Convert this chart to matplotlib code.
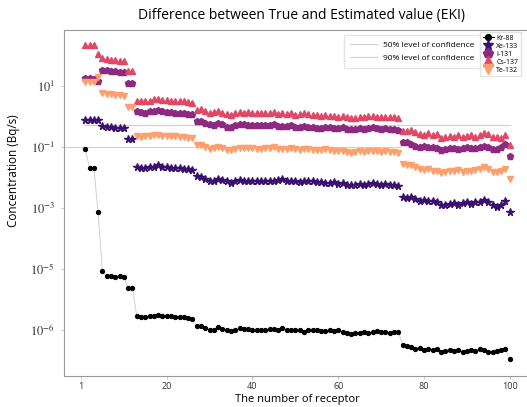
import numpy as np
import matplotlib
matplotlib.use("Agg")
import matplotlib.pyplot as plt
from matplotlib import cm

# receptor index 1..100
receptor = list(range(1, 101))

kr88 = [0.085, 0.020, 0.020, 7.0e-4, 8.1e-6, 5.6e-6, 5.6e-6, 5.5e-6, 5.6e-6, 5.4e-6, 2.4e-6, 2.4e-6,
        2.8e-7, 2.6e-7, 2.5e-7, 2.9e-7, 2.7e-7, 3.1e-7, 2.8e-7, 2.7e-7, 2.8e-7, 2.6e-7, 2.5e-7, 2.5e-7, 2.4e-7, 2.3e-7,
        1.3e-7, 1.3e-7, 1.1e-7, 9.8e-8, 1.0e-7, 1.2e-7, 1.07e-7, 9.8e-8, 9.1e-8, 1.0e-7, 1.1e-7, 1.07e-7, 1.05e-7,
        1.0e-7, 9.9e-8, 1.0e-7, 9.9e-8, 1.05e-7, 1.07e-7, 1.0e-7, 1.17e-7, 9.6e-8, 9.8e-8, 9.6e-8, 1.0e-7, 8.5e-8,
        1.0e-7, 9.9e-8, 9.8e-8, 9.3e-8, 9.1e-8, 9.8e-8, 9.3e-8, 9.8e-8, 8.3e-8, 7.7e-8, 7.2e-8, 7.9e-8,
        8.0e-8, 8.5e-8, 8.0e-8, 8.3e-8, 8.8e-8, 8.3e-8, 8.5e-8, 8.0e-8, 8.3e-8, 8.5e-8,
        3.2e-8, 3.0e-8, 2.6e-8, 2.4e-8, 2.5e-8, 2.2e-8, 2.4e-8, 2.1e-8, 2.3e-8, 1.9e-8, 2.0e-8, 2.2e-8, 2.0e-8,
        2.1e-8, 1.9e-8, 2.0e-8, 2.1e-8, 2.0e-8, 2.4e-8, 2.1e-8, 1.9e-8, 1.8e-8, 2.0e-8, 2.1e-8, 2.3e-8, 1.1e-8]

xe133 = [0.75, 0.75, 0.72, 0.72, 0.47, 0.45, 0.44, 0.42, 0.40, 0.41, 0.18, 0.18,
         0.021, 0.0195, 0.020, 0.022, 0.021, 0.024, 0.0214, 0.021, 0.0204, 0.020, 0.0195, 0.019, 0.018, 0.0174,
         0.0105, 0.0099, 0.0084, 0.0073, 0.0077, 0.0089, 0.0081, 0.0073, 0.0066, 0.0073, 0.0079, 0.0077, 0.0075,
         0.0075, 0.0073, 0.0073, 0.0073, 0.0073, 0.0077, 0.0081, 0.0087, 0.0073, 0.0073, 0.0077, 0.0068, 0.0073,
         0.0075, 0.0073, 0.0071, 0.0068, 0.0064, 0.0066, 0.0068, 0.0060, 0.0066, 0.0057, 0.0053, 0.0057,
         0.0058, 0.0055, 0.0060, 0.0063, 0.0058, 0.0055, 0.0058, 0.0056, 0.0054, 0.0052,
         0.0022, 0.0021, 0.0023, 0.0019, 0.0017, 0.0018, 0.0016, 0.0017, 0.0015, 0.00117, 0.00126, 0.0013, 0.0014,
         0.00126, 0.0014, 0.0015, 0.0013, 0.0015, 0.0015, 0.0018, 0.0015, 0.00117, 0.00108, 0.00126, 0.0017, 0.00074]

i131 = [17, 17, 16, 14, 32, 32, 31, 29.5, 28, 28, 12.2, 12.2,
        1.41, 1.34, 1.30, 1.41, 1.48, 1.59, 1.44, 1.37, 1.37, 1.30, 1.27, 1.24, 1.18, 1.15,
        0.68, 0.68, 0.60, 0.53, 0.51, 0.61, 0.56, 0.45, 0.43, 0.49, 0.53, 0.53, 0.51,
        0.51, 0.50, 0.49, 0.50, 0.51, 0.54, 0.48, 0.48, 0.46, 0.49, 0.43, 0.45, 0.48,
        0.45, 0.43, 0.42, 0.41, 0.43, 0.43, 0.41, 0.40, 0.43, 0.38, 0.37, 0.37,
        0.40, 0.39, 0.41, 0.43, 0.40, 0.38, 0.40, 0.39, 0.37, 0.34,
        0.145, 0.138, 0.123, 0.108, 0.100, 0.108, 0.095, 0.095, 0.088, 0.077, 0.083, 0.091, 0.088,
        0.083, 0.091, 0.095, 0.088, 0.091, 0.095, 0.108, 0.095, 0.083, 0.083, 0.095, 0.117, 0.050]

cs137 = [220, 220, 220, 110, 81, 75, 70, 70, 66, 63, 29.5, 29.5,
         3.2, 3.0, 3.2, 3.2, 3.5, 3.6, 3.4, 3.3, 3.2, 3.2, 3.05, 3.0, 2.9, 2.75,
         1.63, 1.67, 1.44, 1.27, 1.34, 1.51, 1.30, 1.15, 1.12, 1.30, 1.34, 1.30, 1.34,
         1.30, 1.27, 1.24, 1.27, 1.30, 1.37, 1.18, 1.24, 1.18, 1.27, 1.12, 1.18, 1.24,
         1.18, 1.12, 1.06, 1.04, 1.06, 1.04, 1.01, 0.96, 1.04, 0.91, 0.87, 0.87,
         0.95, 0.92, 0.97, 1.0, 0.94, 0.92, 0.95, 0.93, 0.90, 0.85,
         0.335, 0.32, 0.35, 0.295, 0.26, 0.245, 0.275, 0.235, 0.26, 0.19, 0.213, 0.23, 0.213,
         0.235, 0.203, 0.225, 0.235, 0.213, 0.235, 0.275, 0.26, 0.213, 0.203, 0.19, 0.235, 0.115]

te132 = [12.8, 12.8, 12.8, 18.7, 5.6, 5.4, 5.4, 5.0, 4.8, 4.7, 2.0, 2.0,
         0.214, 0.204, 0.214, 0.224, 0.24, 0.245, 0.23, 0.224, 0.214, 0.214, 0.204, 0.204, 0.193, 0.186,
         0.113, 0.111, 0.095, 0.084, 0.088, 0.100, 0.091, 0.080, 0.078, 0.086, 0.091, 0.091, 0.091,
         0.088, 0.086, 0.086, 0.088, 0.091, 0.095, 0.086, 0.082, 0.084, 0.088, 0.082, 0.078, 0.084,
         0.084, 0.080, 0.078, 0.078, 0.082, 0.078, 0.074, 0.071, 0.074, 0.067, 0.063, 0.067,
         0.070, 0.068, 0.072, 0.074, 0.069, 0.066, 0.069, 0.067, 0.064, 0.060,
         0.027, 0.025, 0.024, 0.021, 0.0186, 0.0173, 0.0186, 0.0155, 0.0163, 0.0133, 0.0144, 0.0163, 0.0155,
         0.0173, 0.0144, 0.0163, 0.0163, 0.0173, 0.0186, 0.021, 0.0186, 0.0144, 0.0144, 0.0155, 0.0186, 0.0085]

# confidence levels: (value, first receptor, last receptor)
conf_labels = ["50% level of confidence", "90% level of confidence"]
conf_values = [0.5, 0.1]
conf_start = [1, -4]
conf_end = [100, 74.5]

xtick_pos = [0, 20, 40, 60, 80, 100]
xtick_labels = ["1", "20", "40", "60", "80", "100"]
ytick_pos = [1e1, 1e-1, 1e-3, 1e-5, 1e-7]
ytick_labels = ["$10^{1}$", "$10^{-1}$", "$10^{-3}$", "$10^{-5}$", "$10^{-6}$"]

plt.rcParams['font.family'] = ['Open Sans', 'DejaVu Sans']
plt.rcParams['mathtext.fontset'] = 'stix'

fig = plt.figure(figsize=(5.27, 4.07), dpi=100)
W, H = 527, 407
ax = fig.add_axes([64 / W, 1 - 376 / H, 467 / W, 346 / H])

colors = [cm.magma(v) for v in (0.0, 0.2, 0.4, 0.6, 0.8)]

# confidence lines
conf_handles = []
for val, x0, x1, lab in zip(conf_values, conf_start, conf_end, conf_labels):
    h, = ax.plot([x0, x1], [val, val], color='#cfcfcf', lw=0.8, label=lab, zorder=1)
    conf_handles.append(h)

ax.plot(receptor, kr88, color='#d0d0d0', lw=0.7, marker='o', ms=2.8,
        mfc='black', mec='black', zorder=3)
h_xe, = ax.plot(receptor, xe133, ls='none', marker='*', ms=5.5, color=colors[1],
                mec=colors[1], label='Xe-133', zorder=3)
h_i, = ax.plot(receptor, i131, ls='none', marker='p', ms=4.6, color=colors[2],
               mec=colors[2], label='I-131', zorder=3)
h_cs, = ax.plot(receptor, cs137, ls='none', marker='^', ms=4.5, color=colors[3],
                mec=colors[3], label='Cs-137', zorder=3)
h_te, = ax.plot(receptor, te132, ls='none', marker='v', ms=4.5, color=colors[4],
                mec=colors[4], label='Te-132', zorder=4)
h_kr, = ax.plot([], [], color='black', lw=0.8, marker='o', ms=2.8, label='Kr-88')

ax.set_yscale('log')
ax.set_xlim(-3.95, 104.95)
ax.set_ylim(10 ** -8.52, 10 ** 2.82)
ax.set_yticks(ytick_pos)
ax.set_yticklabels(ytick_labels, fontsize=9, color='#333333')
ax.yaxis.set_minor_locator(matplotlib.ticker.NullLocator())
ax.set_xticks(xtick_pos)
ax.set_xticklabels(xtick_labels, fontsize=6.5, color='#333333')
ax.tick_params(axis='y', length=2.5, width=0.6, color='#bbbbbb', pad=4)
ax.tick_params(axis='x', length=2.5, width=0.6, color='#bbbbbb', pad=2)
for s in ax.spines.values():
    s.set_color('#999999')
    s.set_linewidth(0.8)

ax.set_xlabel('The number of receptor', fontsize=8)
ax.xaxis.set_label_coords(0.5, -0.052)
ax.set_ylabel('Concentration (Bq/s)', fontsize=8.5)
ax.yaxis.set_label_coords(-0.095, 0.595)
fig.text(0.572, 1 - 15 / H, 'Difference between True and Estimated value (EKI)',
         ha='center', va='center', fontsize=10)

leg1 = ax.legend(handles=conf_handles, loc='upper left', bbox_to_anchor=(340 / W, 1 - 31 / H),
                 bbox_transform=fig.transFigure, fontsize=6, frameon=True,
                 handlelength=3.2, borderpad=0.7, labelspacing=0.6, edgecolor='#dddddd')
ax.add_artist(leg1)
leg2 = ax.legend(handles=[h_kr, h_xe, h_i, h_cs, h_te], loc='upper left',
                 bbox_to_anchor=(477 / W, 1 - 29 / H), bbox_transform=fig.transFigure,
                 fontsize=5, markerscale=1.5, handlelength=1.6, handletextpad=0.4,
                 labelspacing=0.15, borderpad=0.3, edgecolor='#dddddd', fancybox=False)

fig.savefig('out.png', dpi=100)
